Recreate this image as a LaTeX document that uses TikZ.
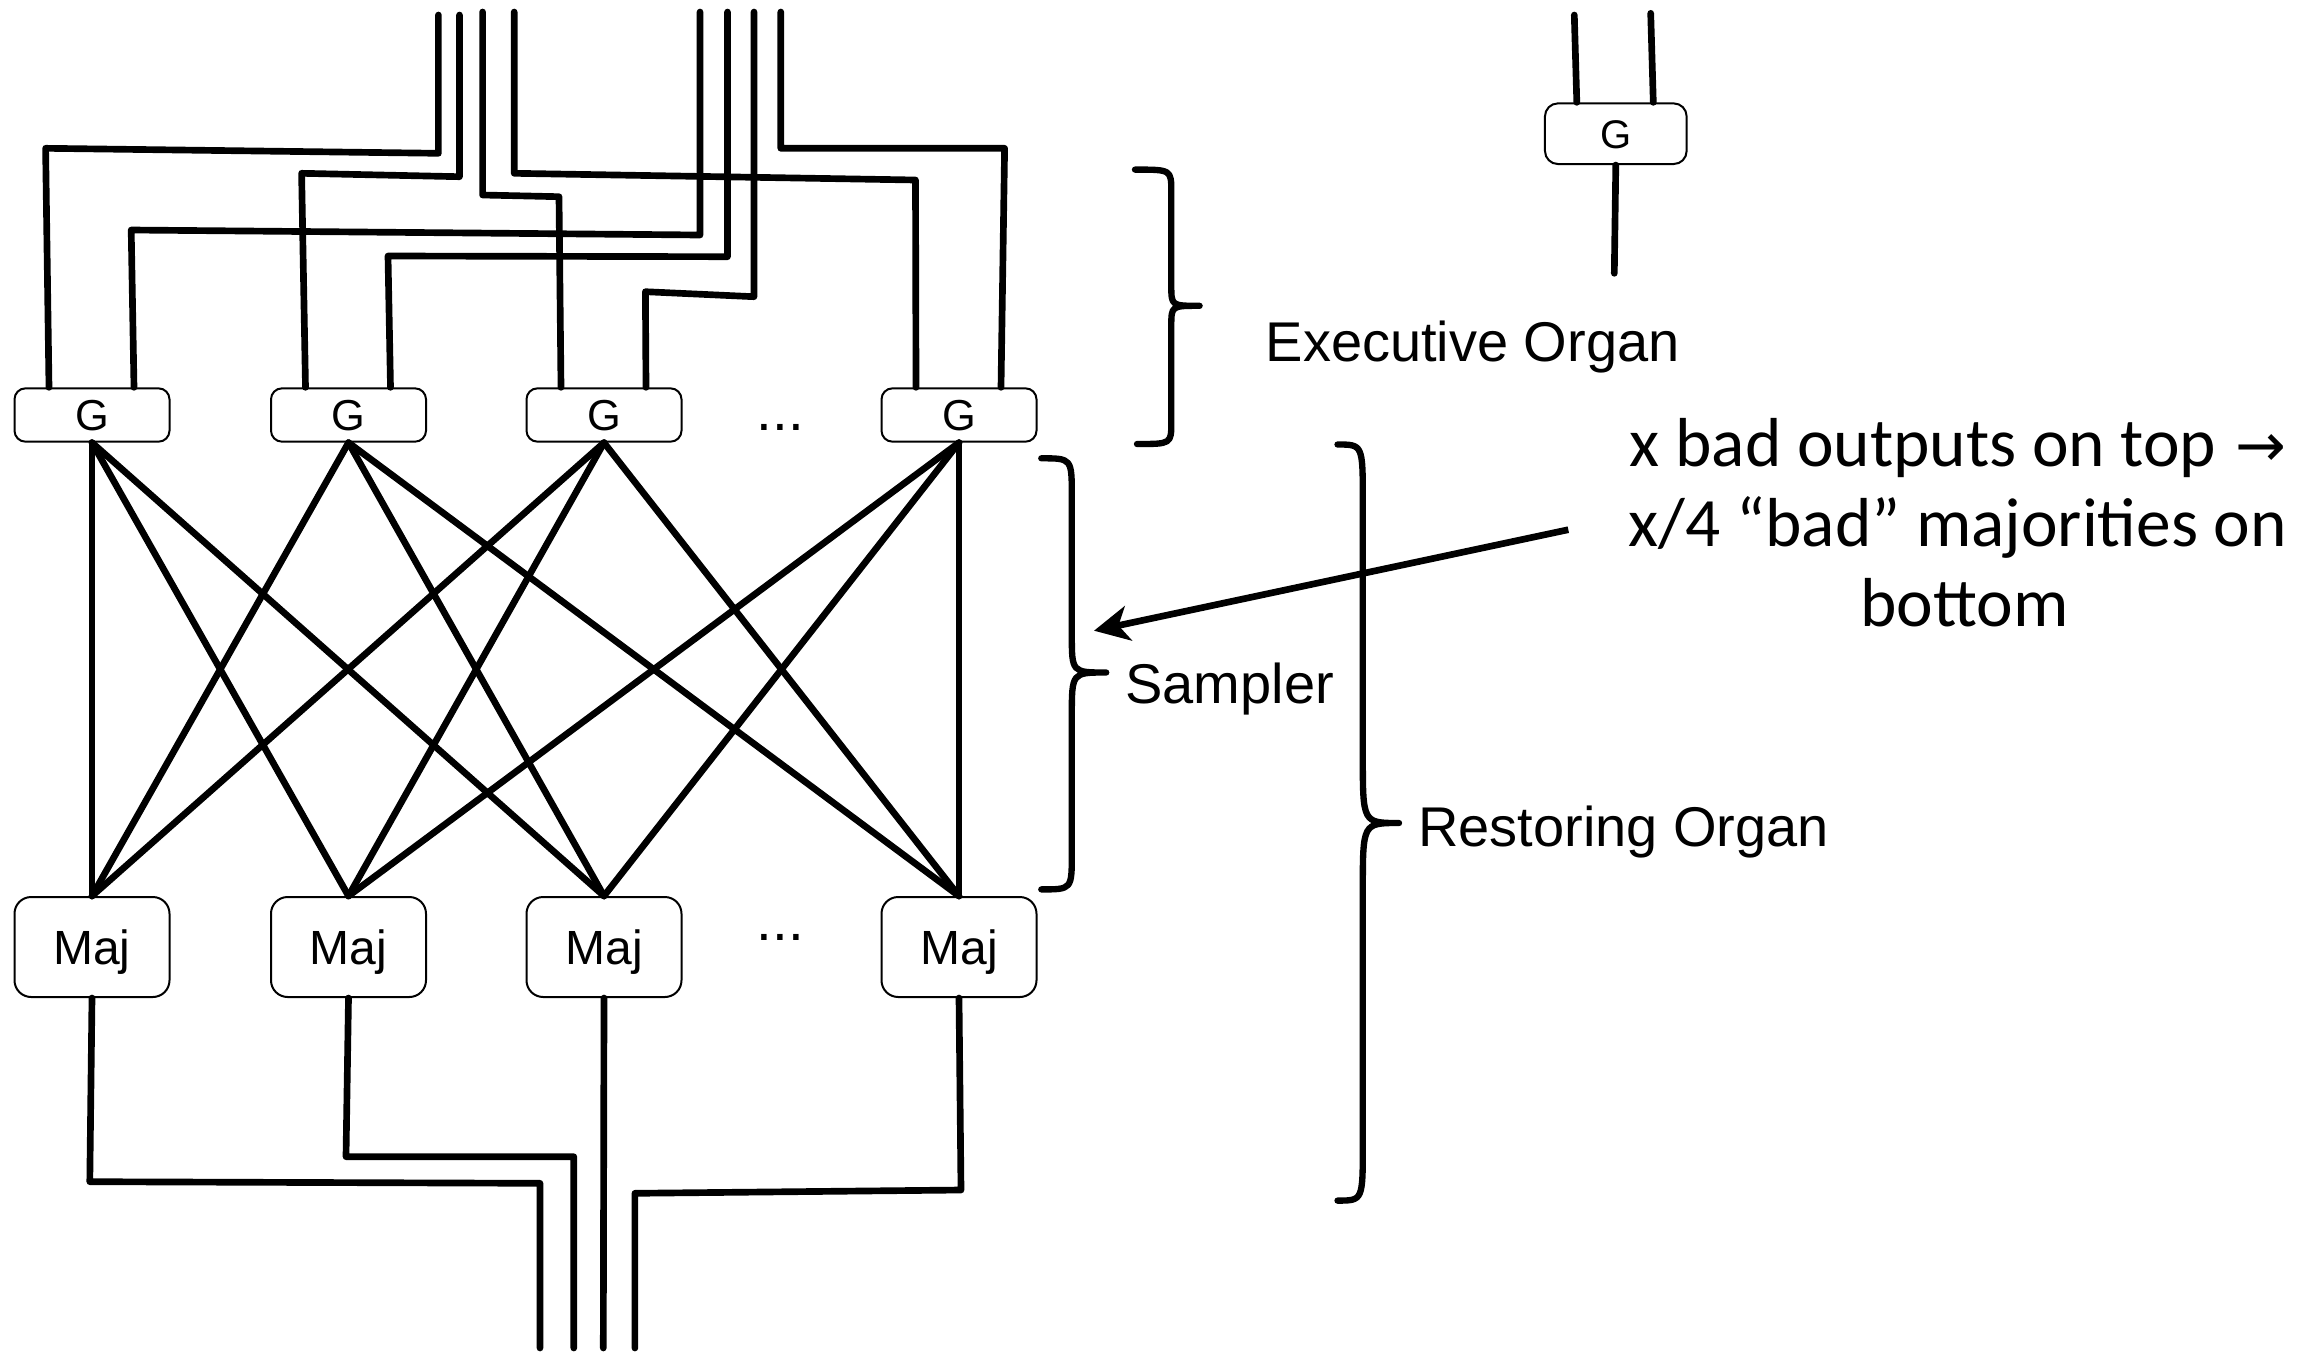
\documentclass[tikz,border=0pt]{standalone}
\usepackage{fontspec}
\setmainfont{Liberation Sans}
\newfontfamily\gillfont{Carlito}
\newfontfamily\arrowfont{DejaVu Sans}
\usetikzlibrary{arrows.meta}
\begin{document}
\begin{tikzpicture}[x=0.3pt,y=-0.3pt,
  wire/.style={line width=2pt,line cap=round,line join=round},
  gbox/.style={draw,line width=0.6pt,rounded corners=3.3pt,minimum width=46.5pt,minimum height=16pt,inner sep=0pt,font=\fontsize{13pt}{13pt}\selectfont,text height=9.3pt,text depth=0pt},
  majbox/.style={gbox,rounded corners=5pt,minimum height=30pt,font=\fontsize{14.4pt}{14.4pt}\selectfont,text height=10.3pt},
  lbl/.style={inner sep=0pt,anchor=base west,font=\fontsize{16.8pt}{20pt}\selectfont},
  dotsnode/.style={inner sep=0pt,anchor=base,font=\fontsize{17pt}{17pt}\selectfont},
  brace/.style={line width=1.9pt,line cap=round,line join=round},
  pointer/.style={line width=2pt,-{Stealth[length=10.5pt,width=10.5pt,inset=3pt]}}]
\path[fill=white] (0,0) rectangle (2318,1352);
\useasboundingbox (0,0) rectangle (2318,1352);

% gate row
\node[gbox] (G1) at (92,415) {G};
\node[gbox] (G2) at (348.5,415) {G};
\node[gbox] (G3) at (604,415) {G};
\node[gbox] (G4) at (959,415) {G};
\node[dotsnode] (d1) at (780.5,430) {...};

% majority row
\node[majbox] (M1) at (92,947) {Maj};
\node[majbox] (M2) at (348.5,947) {Maj};
\node[majbox] (M3) at (604,947) {Maj};
\node[majbox] (M4) at (959,947) {Maj};
\node[dotsnode] (d2) at (780.5,940) {...};

% input wire ends
\coordinate (tA) at (438.4,15);
\coordinate (tB) at (459.5,15);
\coordinate (tC) at (482.6,12);
\coordinate (tD) at (514.2,12);
\coordinate (tE) at (700,12);
\coordinate (tF) at (727.5,12);
\coordinate (tG) at (754,12);
\coordinate (tH) at (780.8,12);

\draw[wire] (tA) -- (438.4,153.3) -- (45.6,148.3) -- ([xshift=-12.9pt]G1.north);
\draw[wire] (tB) -- (459.5,176.7) -- (301.6,173.3) -- ([xshift=-12.9pt]G2.north);
\draw[wire] (tC) -- (482.6,195) -- (559,196.7) -- ([xshift=-12.9pt]G3.north);
\draw[wire] (tD) -- (514.2,173.3) -- (915.5,180) -- ([xshift=-12.9pt]G4.north);
\draw[wire] (tE) -- (700,235) -- (131.2,230) -- ([xshift=12.6pt]G1.north);
\draw[wire] (tF) -- (727.5,256.7) -- (388,256) -- ([xshift=12.6pt]G2.north);
\draw[wire] (tG) -- (754,296.7) -- (645.4,291.7) -- ([xshift=12.6pt]G3.north);
\draw[wire] (tH) -- (780.8,148.3) -- (1004.6,148.3) -- ([xshift=12.6pt]G4.north);

% sampler
\foreach \a/\b in {1/1,1/2,1/3,2/1,2/3,2/4,3/1,3/2,3/4,4/2,4/3,4/4}
  \draw[wire] (G\a.south) -- (M\b.north);

% output wires
\coordinate (b1) at (540,1348);
\coordinate (b2) at (573.8,1348);
\coordinate (b3) at (603.3,1348);
\coordinate (b4) at (634.9,1348);
\draw[wire] (M1.south) -- (89.8,1181.7) -- (540,1183.3) -- (b1);
\draw[wire] (M2.south) -- (346,1156.7) -- (573.8,1156.7) -- (b2);
\draw[wire] (M3.south) -- (b3);
\draw[wire] (M4.south) -- (961,1190) -- (634.9,1193.3) -- (b4);

% standalone gate
\node[gbox,minimum width=42.5pt,minimum height=18.2pt,rounded corners=3.9pt,font=\fontsize{12pt}{12pt}\selectfont,text height=8.6pt] (G0) at (1615.8,133.7) {G};
\coordinate (s1) at (1574.3,15);
\coordinate (s2) at (1650.7,13.3);
\coordinate (s3) at (1614.3,273.3);
\draw[wire] (s1) -- ([xshift=-11.7pt]G0.north);
\draw[wire] (s2) -- ([xshift=11.25pt]G0.north);
\draw[wire] (G0.south) -- (s3);

% braces
\draw[brace] (1135,169.6) .. controls (1171.3,169.6) .. (1171.3,192) -- (1171.3,285.7)
  .. controls (1171.3,305.8) .. (1199.6,305.8) .. controls (1171.3,305.8) .. (1171.3,326)
  -- (1171.3,422) .. controls (1171.3,444) .. (1137,444);
\draw[brace] (1041.3,458.3) .. controls (1071.8,458.3) .. (1071.8,496.5) -- (1071.8,634.3)
  .. controls (1071.8,672.5) .. (1106.2,672.5) .. controls (1071.8,672.5) .. (1071.8,716)
  -- (1071.8,853.7) .. controls (1071.8,889.4) .. (1041.3,889.4);
\draw[brace] (1337.5,444.5) .. controls (1362.8,444.5) .. (1362.8,501.6) -- (1362.8,756.7)
  .. controls (1362.8,823) .. (1399,823) .. controls (1362.8,823) .. (1362.8,889.4)
  -- (1362.8,1144.5) .. controls (1362.8,1200.6) .. (1337.5,1200.6);

% labels
\node[lbl] (exec) at (1265,361.7) {Executive Organ};
\node[lbl] (samp) at (1124.8,703) {Sampler};
\node[lbl] (rest) at (1417.5,846) {Restoring Organ};

\node[inner sep=0pt,anchor=base,font=\gillfont\fontsize{20.8pt}{24pt}\selectfont] (note) at (1958,466.7)
  {\begin{tabular}[t]{@{}c@{}}x bad outputs on top \hspace{1pt}\raisebox{0pt}{\scalebox{1.3}[1.3]{\arrowfont\fontsize{14pt}{14pt}\selectfont →}}\\ x/4 “bad” majorities on\\ \hspace*{4pt}bottom\end{tabular}};

\coordinate (ptail) at (1568.3,529.7);
\coordinate (phead) at (1094,630.7);
\draw[pointer] (ptail) -- (phead);
\end{tikzpicture}
\end{document}
